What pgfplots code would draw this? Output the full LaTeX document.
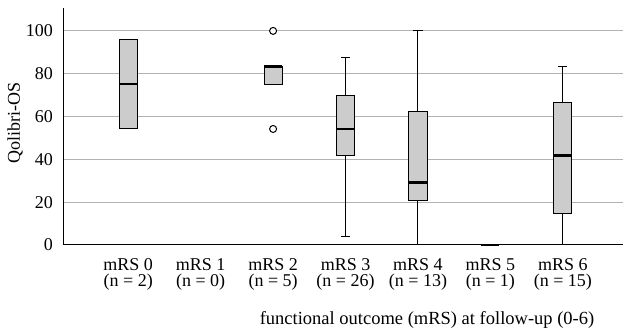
\documentclass[border=0pt]{standalone}
\usepackage{fontspec}
\setmainfont{Liberation Serif}
\usepackage{pgfplots}
\pgfplotsset{compat=1.18}
\usepgfplotslibrary{statistics}
\begin{document}
\fontsize{18}{20}\selectfont
\begin{tikzpicture}[x=1pt,y=1pt]
\useasboundingbox (0,0) rectangle (623,334);
\begin{axis}[
  at={(63pt,89pt)}, anchor=south west,
  scale only axis, width=560pt, height=237pt,
  xmin=-0.9, xmax=6.83, ymin=0, ymax=110.7,
  axis x line=bottom, axis y line=left,
  axis line style={-, line width=1pt, black},
  ytick={0,20,40,60,80,100},
  xtick={0,1,2,3,4,5,6},
  xticklabels={{mRS 0\\(n = 2)},{mRS 1\\(n = 0)},{mRS 2\\(n = 5)},{mRS 3\\(n = 26)},{mRS 4\\(n = 13)},{mRS 5\\(n = 1)},{mRS 6\\(n = 15)}},
  xticklabel style={align=center, font=\fontsize{18}{16.5}\selectfont, yshift=-7pt},
  yticklabel style={font=\fontsize{18}{18}\selectfont, xshift=-4pt},
  major tick length=0pt,
  ymajorgrids, grid style={color=black!30, line width=1pt},
  /pgf/number format/assume math mode=true,
  clip=false,
  boxplot/draw direction=y,
  boxplot/box extend=0.25,
  boxplot/whisker extend=0.125,
  boxplot/every median/.style={line width=2.6pt},
  boxplot/every box/.style={draw=black, fill=black!20, line width=1pt},
  boxplot/every whisker/.style={draw=black, line width=1pt},
]
\addplot[black, mark=none, boxplot prepared={draw position=0, lower whisker=54.2, lower quartile=54.2, median=75.2, upper quartile=95.8, upper whisker=95.8}] coordinates {};
\addplot[black, mark=*, mark size=3.5pt, mark options={fill=white, draw=black, line width=1pt}, boxplot prepared={draw position=2, lower whisker=75.0, lower quartile=75.0, median=83.3, upper quartile=83.3, upper whisker=83.3}] table[row sep=\\, y index=0] {100\\54.2\\};
\addplot[black, mark=none, boxplot prepared={draw position=3, lower whisker=4.2, lower quartile=41.9, median=54.2, upper quartile=70.0, upper whisker=87.5}] coordinates {};
\addplot[black, mark=none, boxplot prepared={draw position=4, lower whisker=0, lower quartile=20.9, median=29.1, upper quartile=62.5, upper whisker=100}] coordinates {};
\addplot[black, mark=none, boxplot prepared={draw position=5, lower whisker=0, lower quartile=0, median=0, upper quartile=0, upper whisker=0}] coordinates {};
\addplot[black, mark=none, boxplot prepared={draw position=6, lower whisker=0, lower quartile=14.6, median=41.7, upper quartile=66.7, upper whisker=83.3}] coordinates {};
\end{axis}
\node[font=\fontsize{18}{18}\selectfont, rotate=90] at (15,211) {Qolibri-OS};
\node[font=\fontsize{18.5}{18}\selectfont] at (427,14) {functional outcome (mRS) at follow-up (0-6)};
\end{tikzpicture}
\end{document}
